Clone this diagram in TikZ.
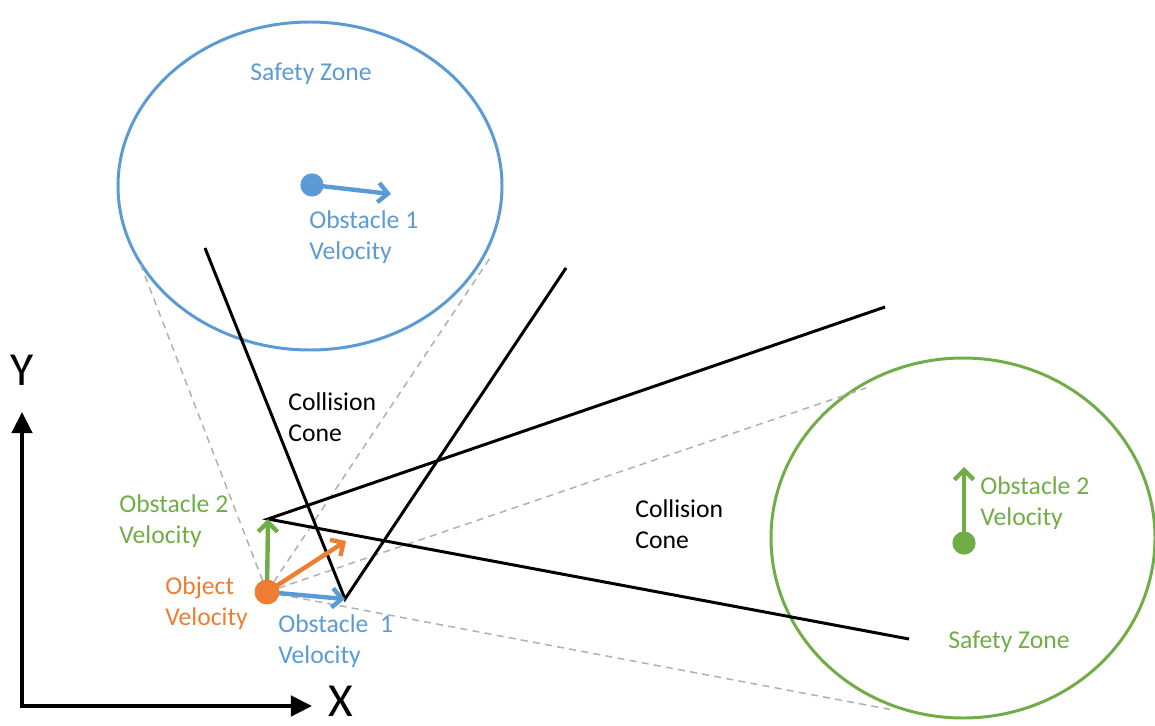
\documentclass[tikz,border=0pt]{standalone}
\usepackage{fontspec}
\setmainfont{Carlito}
\usetikzlibrary{arrows.meta}
\definecolor{oblue}{HTML}{5B9BD5}
\definecolor{ogreen}{HTML}{70AD47}
\definecolor{oorange}{HTML}{ED7D31}
\definecolor{dgrey}{HTML}{B0B0B0}
\begin{document}
\begin{tikzpicture}[x=0.02cm,y=-0.02cm,
  lbl/.style={font=\fontsize{14.6}{17.7}\selectfont, align=left, anchor=west, inner sep=0pt},
  zone/.style={line width=1.7pt},
  cone/.style={line width=1.7pt, black},
  tang/.style={dgrey, line width=0.85pt, dash pattern=on 4pt off 3pt},
  vel/.style={line width=2.5pt, -{Straight Barb[length=5.5pt,width=11pt]}},
  dotnode/.style={circle, inner sep=0pt, minimum size=13.2pt},
  axis/.style={line width=2.3pt, line join=miter, {Triangle[length=12pt,width=11.5pt]}-{Triangle[length=12pt,width=11.5pt]}},
  axlbl/.style={font=\fontsize{27}{29}\selectfont, inner sep=0pt}]
\useasboundingbox (0,0) rectangle (1155,726);

% coordinates
\coordinate (c1) at (310,186);
\coordinate (c2) at (963,538);
\coordinate (b1l) at (140,263);
\coordinate (b1r) at (490,258);
\coordinate (g2u) at (866,388);
\coordinate (g2l) at (893,710);
\coordinate (apex1) at (345,599);
\coordinate (apex2) at (268,519);
\coordinate (e1) at (205,248);
\coordinate (e2) at (566,268);
\coordinate (e3) at (885,307);
\coordinate (e4) at (909,639);
\coordinate (ov) at (346,541);
\coordinate (ob1tip) at (391,194);
\coordinate (ob2tip) at (964,467);
\coordinate (ytip) at (22,412);
\coordinate (orig) at (22,706);
\coordinate (xtip) at (312,706);

% safety zones
\draw[zone, oblue] (c1) ellipse [x radius=192, y radius=164];
\draw[zone, ogreen] (c2) ellipse [x radius=192, y radius=180];

% object
\node[dotnode, minimum size=14.2pt] (obj) at (267,592) {};

% tangent lines
\draw[tang] (obj.center) -- (b1l);
\draw[tang] (obj.center) -- (b1r);
\draw[tang] (obj.center) -- (g2u);
\draw[tang] (obj.center) -- (g2l);

% collision cones
\draw[cone] (e1) -- (apex1) -- (e2);
\draw[cone] (e3) -- (apex2) -- (e4);

% velocities at object
\draw[vel, ogreen] (obj.center) -- (apex2);
\draw[vel, oorange] (obj.center) -- (ov);
\draw[vel, oblue] (obj.center) -- (apex1);
\node[dotnode, minimum size=14.2pt, fill=oorange] at (obj.center) {};

% obstacles
\node[dotnode, fill=oblue] (ob1) at (312,185) {};
\draw[vel, oblue] (ob1.center) -- (ob1tip);
\node[dotnode, fill=ogreen] (ob2) at (964,543) {};
\draw[vel, ogreen] (ob2.center) -- (ob2tip);

% axes
\draw[axis] (ytip) -- (orig) -- (xtip);
\node[axlbl] (ylab) at (22,370) {Y};
\node[axlbl, anchor=base] (xlab) at (341,716) {X};

% labels
\node[lbl, oblue, anchor=center] (sz1) at (311,74) {Safety Zone};
\node[lbl, ogreen, anchor=center] (sz2) at (1009,642) {Safety Zone};
\node[lbl, oblue] (l1) at (309,237) {Obstacle 1\\Velocity};
\node[lbl, ogreen] (l2) at (980,503) {Obstacle 2\\Velocity};
\node[lbl, ogreen] (l3) at (119,521) {Obstacle 2\\Velocity};
\node[lbl, oorange] (l4) at (165,603) {Object\\Velocity};
\node[lbl, oblue] (l5) at (278,641) {Obstacle\ \ 1\\Velocity};
\node[lbl] (cc1) at (288,417) {Collision\\Cone};
\node[lbl] (cc2) at (635,524) {Collision\\Cone};
\end{tikzpicture}
\end{document}
